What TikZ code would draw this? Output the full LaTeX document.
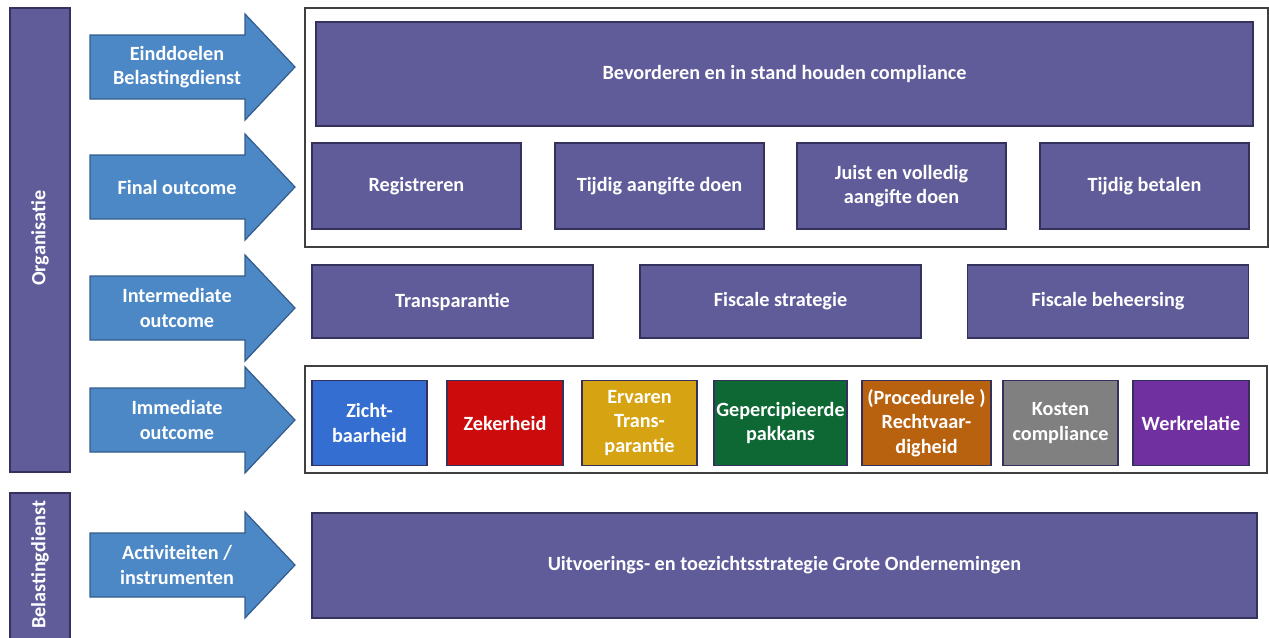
\documentclass[tikz,border=0pt]{standalone}
\usepackage{fontspec}
\setmainfont{Carlito}
\definecolor{boxpurple}{RGB}{96,92,154}
\definecolor{boxedge}{RGB}{52,50,92}
\definecolor{arrowblue}{RGB}{76,136,198}
\definecolor{arrowedge}{RGB}{52,92,140}
\definecolor{zichtblue}{RGB}{52,110,208}
\definecolor{zekerred}{RGB}{204,12,12}
\definecolor{ervarengold}{RGB}{214,164,18}
\definecolor{pakkansgreen}{RGB}{14,104,52}
\definecolor{rechtbrown}{RGB}{184,98,16}
\definecolor{kostengray}{RGB}{128,128,128}
\definecolor{werkpurple}{RGB}{112,48,160}
\def\pw{0.02cm}
\begin{document}
\begin{tikzpicture}[x=0.02cm, y=-0.02cm,
    font=\fontsize{11.5}{13.8}\selectfont\bfseries,
    goalbox/.style={draw=boxedge, line width=0.7pt, fill=boxpurple, text=white, align=center, inner sep=1pt},
    colorbox/.style={draw=boxedge, line width=0.7pt, fill=#1, text=white, align=center, inner sep=1pt,
        minimum height=85*\pw},
    sidebar/.style={draw=boxedge, line width=0.7pt, fill=boxpurple},
    blockarrow/.style={draw=arrowedge, line width=0.7pt, fill=arrowblue},
    frame/.style={draw=black!75, line width=0.7pt}]
    \useasboundingbox (0,0) rectangle (1269,637);
    % side bars
    \draw[sidebar] (10,8) rectangle (70,472);
    \draw[sidebar] (10,493) rectangle (70,645);
    \node[rotate=90, text=white] (org) at (40,238) {Organisatie};
    \node[rotate=90, text=white] (bld) at (40,565) {Belastingdienst};
    % arrows
    \foreach \c/\n/\t in {67/eind/{Einddoelen\\Belastingdienst}, 187/final/Final outcome, 308/inter/{Intermediate\\outcome}, 420/immed/{Immediate\\outcome}, 565/activ/{Activiteiten /\\instrumenten}}
        {
            \draw[blockarrow](90,\c-32)--(245,\c-32)--(245,\c-53)--(295,\c)--(245,\c+53)--(245,\c+32)--(90,\c+32)--cycle;
            \node[text=white, align=center] (\n) at (177,\c) {\t};
        }
    % frames
    \draw[frame] (305,8) rectangle (1268,247);
    \draw[frame] (305,366) rectangle (1267,473);
    % goals
    \node[goalbox, minimum width=937*\pw, minimum height=104*\pw] (compliance) at (784.5,74) {Bevorderen en in stand houden compliance};
    \foreach \x/\n/\t in {416.5/reg/Registreren, 659.5/aangifte/Tijdig aangifte doen, 901.5/juist/{Juist en volledig\\aangifte doen}, 1144.5/betalen/Tijdig betalen}
        {
            \node[goalbox, minimum width=209*\pw, minimum height=86*\pw] (\n) at (\x,186) {\t};
        }
    \foreach \x/\n/\t in {452.5/transp/Transparantie, 780.5/strategie/Fiscale strategie, 1108/beheersing/Fiscale beheersing}
        {
            \node[goalbox, minimum width=281*\pw, minimum height=73*\pw] (\n) at (\x,301.5) {\t};
        }
    \foreach \x/\w/\col/\n/\t in {369.5/115/zichtblue/zicht/{Zicht-\\baarheid}, 505/116/zekerred/zeker/Zekerheid, 639.5/115/ervarengold/ervaren/{Ervaren\\Trans-\\parantie}, 780.5/133/pakkansgreen/pakkans/{Gepercipieerde\\pakkans}, 926.5/129/rechtbrown/recht/{(Procedurele )\\Rechtvaar-\\digheid}, 1060.5/115/kostengray/kosten/{Kosten\\compliance}, 1191/116/werkpurple/werk/Werkrelatie}
        {
            \node[colorbox=\col, minimum width=\w*\pw] (\n) at (\x,423) {\t};
        }
    \node[goalbox, minimum width=945*\pw, minimum height=105*\pw] (strategie) at (784.5,565.5) {Uitvoerings- en toezichtsstrategie Grote Ondernemingen};
\end{tikzpicture}
\end{document}
